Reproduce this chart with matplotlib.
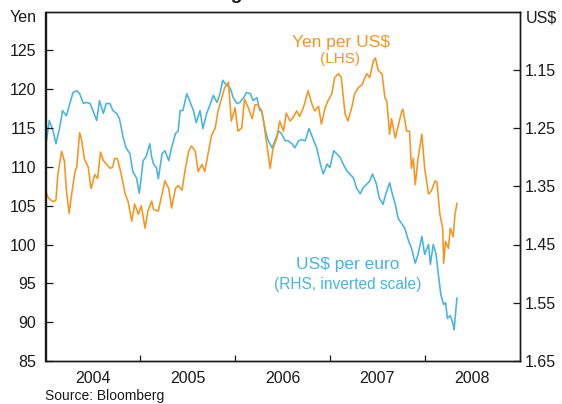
import matplotlib
matplotlib.use("Agg")
import matplotlib.pyplot as plt

plt.rcParams['font.family'] = ['Liberation Sans', 'DejaVu Sans']

# Yen per US$ (LHS) - decimal year, value
yen_dates = [2004.00, 2004.03, 2004.08, 2004.11, 2004.13, 2004.17, 2004.20, 2004.22, 2004.25, 2004.27,
             2004.31, 2004.33, 2004.36, 2004.38, 2004.41, 2004.45, 2004.48, 2004.52, 2004.55, 2004.58,
             2004.61, 2004.64, 2004.68, 2004.71, 2004.73, 2004.76, 2004.80, 2004.84, 2004.87, 2004.91,
             2004.94, 2004.98, 2005.01, 2005.05, 2005.08, 2005.12, 2005.14, 2005.19, 2005.23, 2005.26,
             2005.30, 2005.33, 2005.37, 2005.40, 2005.44, 2005.47, 2005.51, 2005.54, 2005.58, 2005.61,
             2005.65, 2005.68, 2005.72, 2005.75, 2005.79, 2005.82, 2005.86, 2005.89, 2005.93, 2005.96,
             2006.00, 2006.03, 2006.07, 2006.10, 2006.14, 2006.18, 2006.21, 2006.24, 2006.28, 2006.30,
             2006.33, 2006.37, 2006.40, 2006.44, 2006.47, 2006.51, 2006.54, 2006.58, 2006.61, 2006.65,
             2006.68, 2006.72, 2006.77, 2006.81, 2006.84, 2006.88, 2006.91, 2006.95, 2006.98, 2007.02,
             2007.05, 2007.09, 2007.12, 2007.16, 2007.19, 2007.23, 2007.26, 2007.30, 2007.34, 2007.37,
             2007.39, 2007.42, 2007.46, 2007.48, 2007.51, 2007.55, 2007.58, 2007.60, 2007.63, 2007.65,
             2007.69, 2007.72, 2007.76, 2007.77, 2007.81, 2007.84, 2007.86, 2007.88, 2007.90, 2007.93,
             2007.97, 2008.00, 2008.04, 2008.07, 2008.11, 2008.13, 2008.16, 2008.19, 2008.20, 2008.22,
             2008.25, 2008.27, 2008.30, 2008.32, 2008.34]
yen_values = [106.9, 106.0, 105.5, 105.7, 109.0, 112.0, 110.7, 107.0, 104.0, 106.0,
              109.3, 110.0, 114.4, 113.5, 111.0, 110.0, 107.2, 109.0, 108.5, 111.9,
              110.8, 110.4, 109.8, 110.0, 111.1, 111.0, 109.0, 106.5, 105.6, 103.0,
              105.2, 103.9, 105.0, 102.1, 104.3, 105.6, 104.5, 104.3, 106.5, 108.2,
              107.2, 104.7, 107.2, 107.6, 107.0, 109.4, 112.0, 112.7, 112.0, 109.4,
              110.3, 109.4, 112.0, 114.0, 115.0, 117.2, 118.9, 120.2, 120.9, 115.9,
              117.6, 114.6, 115.0, 118.7, 117.6, 116.2, 118.0, 118.0, 117.2, 115.9,
              113.3, 109.8, 112.4, 113.7, 115.9, 114.6, 116.9, 115.9, 116.3, 117.2,
              116.5, 117.6, 119.8, 118.1, 117.2, 117.8, 115.5, 117.6, 118.5, 119.4,
              121.5, 122.0, 121.5, 116.8, 115.9, 117.6, 119.4, 120.2, 120.6, 121.5,
              122.0, 121.5, 123.7, 124.0, 122.4, 122.0, 118.9, 118.5, 114.2, 116.2,
              113.7, 115.3, 117.2, 117.4, 114.6, 114.6, 109.8, 111.1, 107.7, 111.1,
              114.2, 109.8, 106.5, 106.9, 108.2, 108.0, 103.9, 102.1, 97.6, 100.4,
              99.5, 102.1, 101.0, 103.9, 105.3]

# US$ per euro (RHS, inverted)
eur_dates = [2004.00, 2004.01, 2004.04, 2004.08, 2004.11, 2004.15, 2004.18, 2004.22, 2004.26, 2004.29,
             2004.33, 2004.36, 2004.40, 2004.43, 2004.47, 2004.50, 2004.54, 2004.57, 2004.61, 2004.64,
             2004.68, 2004.71, 2004.75, 2004.78, 2004.82, 2004.85, 2004.89, 2004.92, 2004.96, 2004.99,
             2005.03, 2005.06, 2005.10, 2005.12, 2005.14, 2005.17, 2005.19, 2005.23, 2005.26, 2005.30,
             2005.33, 2005.37, 2005.40, 2005.42, 2005.45, 2005.49, 2005.52, 2005.56, 2005.59, 2005.63,
             2005.66, 2005.70, 2005.74, 2005.77, 2005.81, 2005.84, 2005.87, 2005.90, 2005.95, 2005.98,
             2006.02, 2006.05, 2006.09, 2006.12, 2006.16, 2006.19, 2006.23, 2006.26, 2006.28, 2006.32,
             2006.35, 2006.39, 2006.42, 2006.46, 2006.49, 2006.53, 2006.56, 2006.60, 2006.63, 2006.67,
             2006.70, 2006.74, 2006.78, 2006.83, 2006.86, 2006.90, 2006.93, 2006.97, 2007.00, 2007.04,
             2007.07, 2007.11, 2007.14, 2007.18, 2007.21, 2007.25, 2007.28, 2007.32, 2007.35, 2007.39,
             2007.42, 2007.45, 2007.49, 2007.52, 2007.56, 2007.59, 2007.63, 2007.65, 2007.69, 2007.72,
             2007.76, 2007.79, 2007.83, 2007.86, 2007.90, 2007.93, 2007.97, 2008.00, 2008.04, 2008.06,
             2008.09, 2008.12, 2008.14, 2008.17, 2008.20, 2008.22, 2008.24, 2008.27, 2008.30, 2008.31,
             2008.33, 2008.34]
eur_values = [1.260, 1.272, 1.237, 1.255, 1.277, 1.249, 1.220, 1.229, 1.206, 1.189,
              1.186, 1.191, 1.208, 1.206, 1.208, 1.220, 1.237, 1.203, 1.225, 1.208,
              1.208, 1.220, 1.225, 1.234, 1.267, 1.284, 1.294, 1.324, 1.336, 1.362,
              1.306, 1.300, 1.277, 1.300, 1.312, 1.318, 1.337, 1.294, 1.289, 1.306,
              1.284, 1.260, 1.255, 1.220, 1.220, 1.191, 1.203, 1.220, 1.241, 1.220,
              1.251, 1.225, 1.208, 1.194, 1.206, 1.191, 1.168, 1.175, 1.182, 1.198,
              1.208, 1.206, 1.198, 1.189, 1.191, 1.203, 1.198, 1.220, 1.220, 1.255,
              1.272, 1.284, 1.272, 1.255, 1.260, 1.272, 1.272, 1.277, 1.284, 1.272,
              1.270, 1.272, 1.251, 1.272, 1.284, 1.312, 1.329, 1.312, 1.318, 1.289,
              1.294, 1.301, 1.312, 1.324, 1.329, 1.336, 1.353, 1.363, 1.353, 1.346,
              1.341, 1.329, 1.346, 1.370, 1.381, 1.363, 1.344, 1.358, 1.381, 1.405,
              1.415, 1.422, 1.444, 1.456, 1.482, 1.467, 1.436, 1.467, 1.450, 1.484,
              1.450, 1.467, 1.496, 1.536, 1.553, 1.550, 1.577, 1.572, 1.587, 1.596,
              1.560, 1.542]

yen_ticks = [85, 90, 95, 100, 105, 110, 115, 120, 125]
eur_ticks = [1.15, 1.25, 1.35, 1.45, 1.55, 1.65]
eur_tick_labels = ['1.15', '1.25', '1.35', '1.45', '1.55', '1.65']
year_bounds = [2005, 2006, 2007, 2008]
year_labels = ['2004', '2005', '2006', '2007', '2008']

ORANGE = '#F7941D'
BLUE = '#45B4E1'
TXT = '#1a1a1a'

fig = plt.figure(figsize=(5.62, 4.04), dpi=100)
ax = fig.add_axes([45.5/562, 43/404, 474/562, 349.5/404])
ax2 = ax.twinx()

ax2.plot(eur_dates, eur_values, color=BLUE, lw=1.15)
ax.plot(yen_dates, yen_values, color=ORANGE, lw=1.15)
ax.set_zorder(ax2.get_zorder() + 1)
ax.patch.set_visible(False)

ax.set_xlim(2004, 2009)
ax.set_ylim(85, 130)
ax2.set_ylim(1.65, 1.05)

ax.set_yticks(yen_ticks)
ax.set_yticklabels([str(t) for t in yen_ticks])
ax2.set_yticks(eur_ticks)
ax2.set_yticklabels(eur_tick_labels)

ax.set_xticks(year_bounds)
ax.set_xticklabels([])
ax.set_xticks([y + 0.5 for y in range(2004, 2009)], minor=True)
ax.set_xticklabels(year_labels, minor=True)

ax.tick_params(axis='x', which='major', direction='in', length=4.5, width=0.9, color=TXT)
ax.tick_params(axis='x', which='minor', length=0, pad=7, labelsize=11.5, labelcolor=TXT)
ax.tick_params(axis='y', direction='in', length=5, width=0.9, pad=6.5, labelsize=11.5, labelcolor=TXT, color=TXT)
ax2.tick_params(axis='y', direction='in', length=5, width=0.9, pad=3.5, labelsize=11.5, labelcolor=TXT, color=TXT)

for a in (ax, ax2):
    for s in a.spines.values():
        s.set_linewidth(1.0)
        s.set_color(TXT)

fig.text(37/562, 1 - 18/404, 'Yen', ha='right', va='center', fontsize=11.5, color=TXT)
fig.text(526/562, 1 - 18/404, 'US$', ha='left', va='center', fontsize=11.5, color=TXT)

fig.text(341/562, 1 - 42/404, 'Yen per US$', ha='center', va='center', fontsize=12.5, color=ORANGE)
fig.text(340/562, 1 - 59.5/404, '(LHS)', ha='center', va='center', fontsize=11, color=ORANGE)
fig.text(348/562, 1 - 265/404, 'US$ per euro', ha='center', va='center', fontsize=12.5, color=BLUE)
fig.text(348/562, 1 - 285/404, '(RHS, inverted scale)', ha='center', va='center', fontsize=11.2, color=BLUE)

fig.text(45/562, 1 - 396/404, 'Source: Bloomberg', ha='left', va='center', fontsize=10, color=TXT)
# Title: clipped at the top edge in the reference as well
fig.text(161/562, 1 + 1/404, 'Exchange Rates', ha='left', va='baseline', fontsize=14, fontweight='bold', color=TXT)

fig.savefig('out.png', dpi=100)
